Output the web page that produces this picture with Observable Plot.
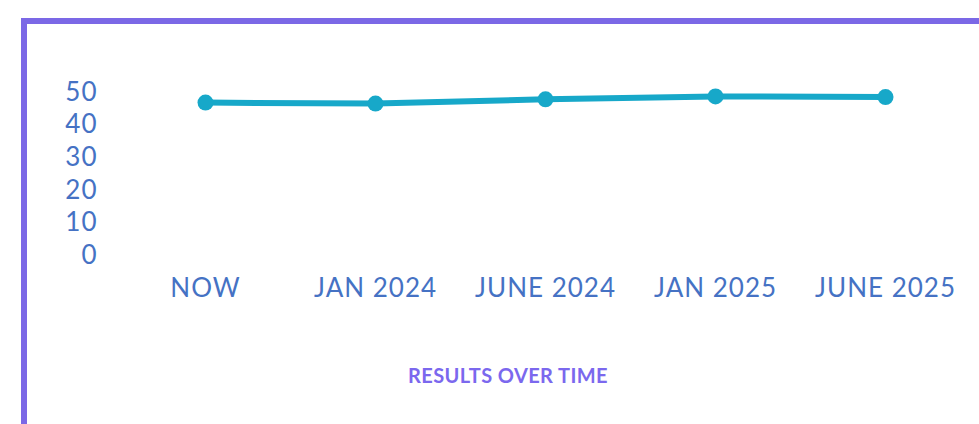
<!DOCTYPE html>
<html>
<head>
<meta charset="utf-8">
<script src="https://cdn.jsdelivr.net/npm/d3@7"></script>
<script src="https://cdn.jsdelivr.net/npm/@observablehq/plot@0.6"></script>
<style>
  html, body { margin: 0; padding: 0; background: #fff; overflow: hidden; width: 979px; height: 424px; }
  #frame { position: absolute; left: 21px; top: 18px; width: 2000px; height: 2000px;
           border-left: 6px solid #7b68e6; border-top: 6px solid #7b68e6; box-sizing: border-box; }
  #chart { position: absolute; left: 0; top: 0; }
  #title { position: absolute; left: 0; top: 340px; width: 1016px; text-align: center;
           font-family: Lato, sans-serif; font-weight: 700; font-size: 20px; color: #7b68ee;
           letter-spacing: 0.4px; line-height: 70px; }
  #chart svg text { letter-spacing: 1px; }
</style>
</head>
<body>
<div id="frame"></div>
<div id="chart"></div>
<div id="title">RESULTS OVER TIME</div>
<script>
const periods = ["NOW", "JAN 2024", "JUNE 2024", "JAN 2025", "JUNE 2025"];
const results = [46.9, 46.6, 47.9, 48.8, 48.6];
const yTicks = [0, 10, 20, 30, 40, 50];

const data = periods.map((p, i) => ({period: p, value: results[i]}));

const chart = Plot.plot({
  width: 979,
  height: 340,
  marginLeft: 120,
  marginRight: 9,
  marginTop: 92,
  marginBottom: 85,
  style: {fontFamily: "Lato, sans-serif", fontSize: "26px", fontWeight: 400, color: "#3d6fc1", background: "transparent"},
  x: {type: "point", domain: periods, padding: 0.5},
  y: {domain: [0, 50]},
  marks: [
    Plot.axisX({tickSize: 0, tickPadding: 23, label: null, fill: "#4572c4", fontSize: 26}),
    Plot.axisY({ticks: yTicks, tickSize: 0, tickPadding: 23, label: null, fill: "#4572c4", fontSize: 26}),
    Plot.line(data, {x: "period", y: "value", stroke: "#17a8c9", strokeWidth: 6, strokeLinecap: "round"}),
    Plot.dot(data, {x: "period", y: "value", r: 8, fill: "#17a8c9"})
  ]
});
document.getElementById("chart").appendChild(chart);
</script>
</body>
</html>
